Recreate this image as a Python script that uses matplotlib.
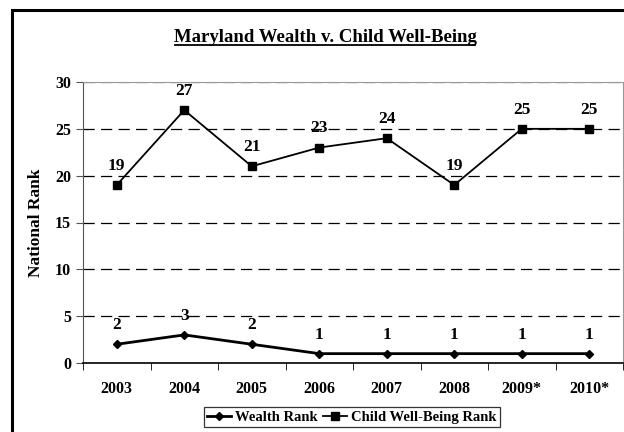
import matplotlib.pyplot as plt
from matplotlib.patches import Rectangle
import numpy as np

years = ["2003", "2004", "2005", "2006", "2007", "2008", "2009*", "2010*"]
wealth_rank = [2, 3, 2, 1, 1, 1, 1, 1]
child_rank = [19, 27, 21, 23, 24, 19, 25, 25]

plt.rcParams["font.family"] = "Liberation Serif"
plt.rcParams["font.weight"] = "bold"

fig = plt.figure(figsize=(6.24, 4.32), dpi=100)
ax = fig.add_axes([83/624, 1-363/432, 540/624, 281/432])

x = np.arange(len(years))
ax.plot(x, wealth_rank, color="black", lw=2, marker="D", ms=4.5, label="Wealth Rank", zorder=3)
ax.plot(x, child_rank, color="black", lw=1.3, marker="s", ms=5.5, label="Child Well-Being Rank", zorder=3)

# value labels above each point
for xi, v in zip(x, wealth_rank):
    ax.annotate(str(v), (xi, v), xytext=(0, 8), textcoords="offset points",
                ha="center", va="bottom", fontsize=12.5, fontweight="bold")
for xi, v in zip(x, child_rank):
    ax.annotate(str(v), (xi, v), xytext=(0, 8), textcoords="offset points",
                ha="center", va="bottom", fontsize=12.5, fontweight="bold")

ax.set_xlim(-0.5, len(years) - 0.5)
ax.set_ylim(0, 30)
ax.set_yticks(range(0, 31, 5))
ax.set_xticks(x)
ax.set_xticklabels(years, fontsize=11.5, fontweight="bold")
ax.set_xticks(np.arange(-0.5, len(years)), minor=True)
ax.tick_params(axis="x", which="major", length=0, pad=13)
ax.tick_params(axis="x", which="minor", length=5, color="black")
ax.tick_params(axis="y", length=5, labelsize=11.5, color="#555555")
for lbl in ax.get_yticklabels():
    lbl.set_fontweight("bold")

for yv in range(5, 31, 5):
    ax.axhline(yv, color="black" if yv < 30 else "#555555", lw=0.9, ls=(0, (9, 5)), zorder=1)

for side in ["top", "right"]:
    ax.spines[side].set_color("#999999")
    ax.spines[side].set_linewidth(0.8)
ax.spines["left"].set_color("#555555")
ax.spines["bottom"].set_color("black")
ax.spines["bottom"].set_linewidth(1.2)

ax.set_ylabel("National Rank", fontsize=12.5, fontweight="bold", labelpad=8)

fig.text(325/624, 1-37/432, "Maryland Wealth v. Child Well-Being", ha="center", va="center",
         fontsize=13.5, fontweight="bold")
fig.add_artist(plt.Line2D([175/624, 475/624], [1-45/432, 1-45/432], color="black", lw=1.3))

leg = ax.legend(loc="center", bbox_to_anchor=(352/624, 1-417/432), bbox_transform=fig.transFigure,
                ncol=2, frameon=True, fancybox=False, edgecolor="black",
                handlelength=1.6, handletextpad=0.3, columnspacing=0.4, borderpad=0.2,
                prop={"weight": "bold", "size": 10.5})
leg.get_frame().set_linewidth(0.9)

fig.add_artist(Rectangle((12/624, -0.2), 1.2, 1 - 10/432 + 0.2, transform=fig.transFigure,
                         fill=False, edgecolor="black", lw=2.2))

fig.savefig("out.png", dpi=100)
